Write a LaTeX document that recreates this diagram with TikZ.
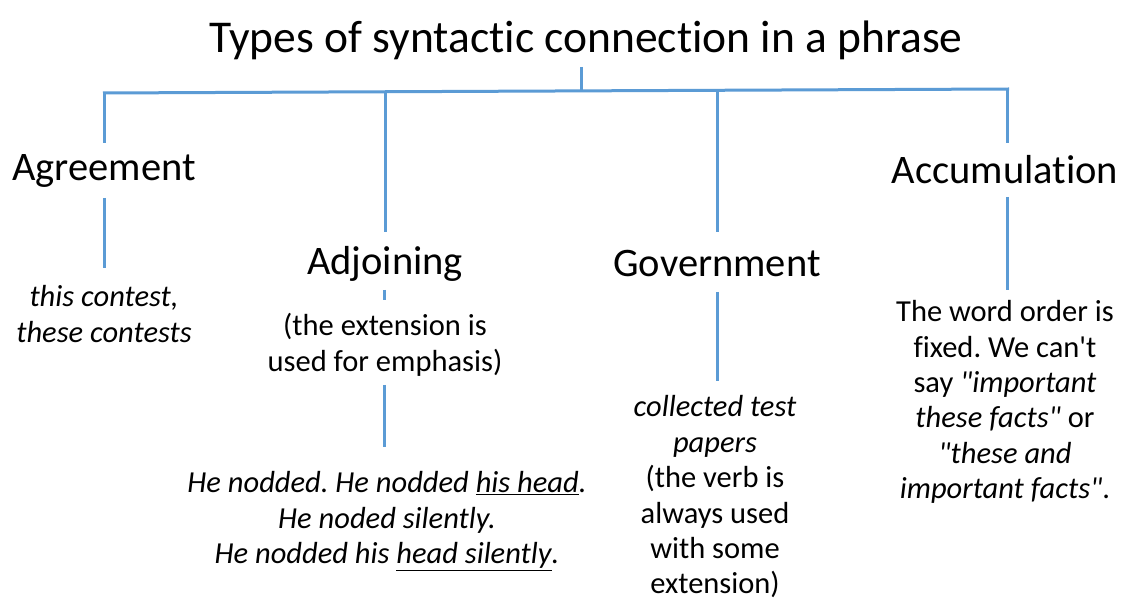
\documentclass[tikz,border=0pt]{standalone}
\usepackage{fontspec}
\setmainfont{Carlito}[Ligatures=NoCommon]
\definecolor{linkblue}{HTML}{5B9BD5}
\newcommand{\sq}{\textquotedbl}
\tikzset{
  conn/.style={draw=linkblue, line width=3pt},
  titletext/.style={inner sep=0pt, font=\fontsize{45.5}{54}\selectfont},
  headtext/.style={inner sep=0pt, font=\fontsize{40.5}{48}\selectfont},
  bodytext/.style={inner sep=0pt, align=center, font=\fontsize{30.5}{35.4}\selectfont}
}
\begin{document}
\frenchspacing
\begin{tikzpicture}[x=1pt,y=-1pt]
\useasboundingbox[fill=white] (0,0) rectangle (1122,601);
% texts
\node[titletext] (title) at (586,40) {Types of syntactic connection in a phrase};
\node[headtext] (agr) at (104,171) {Agreement};
\node[headtext] (adj) at (385,264) {Adjoining};
\node[headtext] (gov) at (717,264) {Government};
\node[headtext] (acc) at (1005,170) {Accumulation};
\node[bodytext] (agrex) at (104,314) {\itshape this contest,\\\itshape these contests};
\node[bodytext] (adjnote) at (385,345) {(the extension is\\used for emphasis)};
\node[bodytext] (adjex) at (387,521) {\itshape He nodded. He nodded \underline{his head}.\\\itshape He noded silently.\\\itshape He nodded his \underline{head silently}.};
\node[bodytext] (govex) at (715,497) {\itshape collected test\\\itshape papers\\(the verb is\\always used\\with some\\extension)};
\node[bodytext] (accex) at (1005,402) {The word order is\\fixed. We can\textquotesingle t\\say \textit{\sq important}\\\textit{these facts\sq} or\\\textit{\sq these and}\\\textit{important facts\sq}.};
% coordinates
\coordinate (stemtop) at (581,67);
\coordinate (hub) at (581,91);
\coordinate (barL) at (103,93);
\coordinate (barR) at (1009,89);
\coordinate (agrbar) at (104,93);
\coordinate (agrtop) at (104,143);
\coordinate (agrlow1) at (104,198);
\coordinate (agrlow2) at (104,268);
\coordinate (adjbar) at (385,92);
\coordinate (adjtop) at (385,232);
\coordinate (adjtick1) at (384,290);
\coordinate (adjtick2) at (384,300);
\coordinate (adjlow1) at (384,385);
\coordinate (adjlow2) at (384,447);
\coordinate (govbar) at (717,90);
\coordinate (govtop) at (717,232);
\coordinate (govlow1) at (717,292);
\coordinate (govlow2) at (717,381);
\coordinate (accbar) at (1007,89);
\coordinate (acctop) at (1007,143);
\coordinate (acclow1) at (1007,197);
\coordinate (acclow2) at (1007,290);
% connectors
\draw[conn] (stemtop) -- (hub);
\draw[conn] (barL) -- (barR);
\draw[conn] (agrbar) -- (agrtop);
\draw[conn] (agrlow1) -- (agrlow2);
\draw[conn] (adjbar) -- (adjtop);
\draw[conn] (adjtick1) -- (adjtick2);
\draw[conn] (adjlow1) -- (adjlow2);
\draw[conn] (govbar) -- (govtop);
\draw[conn] (govlow1) -- (govlow2);
\draw[conn] (accbar) -- (acctop);
\draw[conn] (acclow1) -- (acclow2);
\end{tikzpicture}
\end{document}
